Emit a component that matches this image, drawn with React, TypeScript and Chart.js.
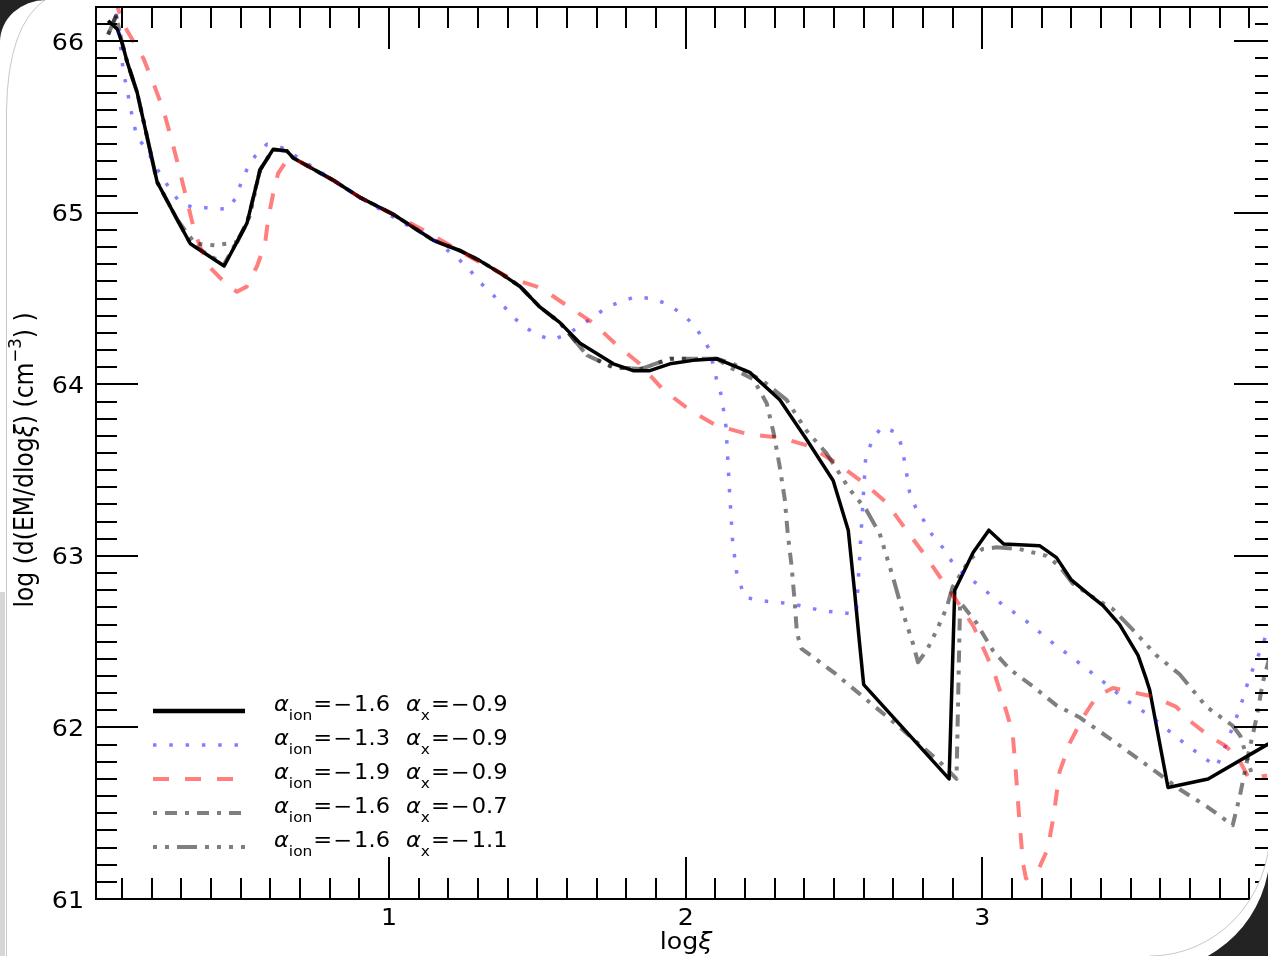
import { useEffect, useRef } from "react";
import { Chart, registerables } from "chart.js";
Chart.register(...registerables);

// ---------------- data ----------------
const xTicks = [1, 2, 3];
const yTicks = [61, 62, 63, 64, 65, 66];
const X_MIN = 0.012;
const X_MAX = 3.99;
const Y_MIN = 61;
const Y_MAX = 66.2;

const ionValues = ["−1.6", "−1.3", "−1.9", "−1.6", "−1.6"];
const alphaXValues = ["−0.9", "−0.9", "−0.9", "−0.7", "−1.1"];

// [log xi, log dEM/dlogxi]
const seriesBlack: [number, number][] = [
  [0.053, 66.12], [0.084, 66.07], [0.1, 65.99], [0.117, 65.88], [0.151, 65.7], [0.218, 65.18],
  [0.252, 65.07], [0.286, 64.96], [0.33, 64.82], [0.444, 64.69], [0.521, 64.94], [0.565, 65.25],
  [0.609, 65.37], [0.656, 65.36], [0.677, 65.32], [0.812, 65.19], [0.902, 65.09], [1.015, 64.99],
  [1.149, 64.84], [1.239, 64.78], [1.307, 64.72], [1.374, 64.65], [1.442, 64.57], [1.509, 64.45],
  [1.576, 64.36], [1.644, 64.24], [1.7, 64.18], [1.756, 64.12], [1.823, 64.08], [1.879, 64.08],
  [1.947, 64.12], [2.025, 64.14], [2.104, 64.15], [2.216, 64.07], [2.317, 63.91], [2.407, 63.68],
  [2.497, 63.44], [2.548, 63.15], [2.57, 62.78], [2.585, 62.51], [2.6, 62.25], [2.888, 61.7],
  [2.907, 62.8], [2.969, 63.02], [3.022, 63.15], [3.072, 63.07], [3.193, 63.06], [3.25, 62.99],
  [3.3, 62.86], [3.356, 62.78], [3.407, 62.71], [3.463, 62.6], [3.525, 62.42], [3.553, 62.28],
  [3.564, 62.22], [3.626, 61.65], [3.761, 61.7], [3.96, 61.9], [4.0, 61.93],
];

const seriesBlue: [number, number][] = [
  [0.07, 66.25], [0.094, 65.99], [0.104, 65.82], [0.117, 65.72], [0.127, 65.62], [0.15, 65.44],
  [0.184, 65.37], [0.206, 65.29], [0.235, 65.21], [0.268, 65.12], [0.296, 65.06], [0.34, 65.03],
  [0.397, 65.03], [0.454, 65.02], [0.481, 65.08], [0.498, 65.16], [0.52, 65.25], [0.548, 65.33],
  [0.588, 65.4], [0.639, 65.38], [0.677, 65.34], [0.812, 65.19], [0.902, 65.09], [1.048, 64.94],
  [1.138, 64.86], [1.183, 64.8], [1.228, 64.74], [1.266, 64.68], [1.303, 64.6], [1.34, 64.54],
  [1.38, 64.47], [1.414, 64.4], [1.452, 64.34], [1.498, 64.29], [1.548, 64.26], [1.599, 64.29],
  [1.643, 64.34], [1.687, 64.39], [1.734, 64.45], [1.778, 64.48], [1.829, 64.51], [1.886, 64.5],
  [1.936, 64.47], [1.98, 64.42], [2.02, 64.36], [2.054, 64.28], [2.081, 64.2], [2.104, 64.03],
  [2.121, 63.93], [2.136, 63.75], [2.142, 63.56], [2.148, 63.37], [2.158, 63.09], [2.171, 62.91],
  [2.198, 62.76], [2.249, 62.74], [2.36, 62.72], [2.462, 62.68], [2.519, 62.67], [2.575, 62.66],
  [2.59, 63.1], [2.607, 63.58], [2.631, 63.68], [2.66, 63.75], [2.711, 63.72], [2.728, 63.64],
  [2.739, 63.54], [2.755, 63.37], [2.778, 63.27], [2.805, 63.2], [2.832, 63.12], [2.866, 63.05],
  [2.896, 62.97], [2.934, 62.9], [2.98, 62.84], [3.058, 62.73], [3.148, 62.62], [3.232, 62.5],
  [3.316, 62.39], [3.405, 62.27], [3.484, 62.16], [3.572, 62.06], [3.657, 61.94], [3.742, 61.83],
  [3.789, 61.77], [3.81, 61.85], [3.868, 62.11], [3.9, 62.29], [3.94, 62.46], [3.97, 62.6],
];

const seriesRed: [number, number][] = [
  [0.075, 66.25], [0.104, 66.1], [0.172, 65.9], [0.211, 65.73], [0.239, 65.6], [0.268, 65.42],
  [0.296, 65.23], [0.319, 65.07], [0.34, 64.92], [0.363, 64.8], [0.397, 64.68], [0.454, 64.58],
  [0.487, 64.54], [0.52, 64.57], [0.555, 64.69], [0.582, 64.82], [0.592, 64.96], [0.609, 65.11],
  [0.626, 65.23], [0.649, 65.29], [0.677, 65.32], [0.812, 65.19], [0.902, 65.09], [1.015, 64.99],
  [1.115, 64.9], [1.216, 64.8], [1.307, 64.71], [1.408, 64.62], [1.498, 64.57], [1.531, 64.54],
  [1.599, 64.46], [1.687, 64.36], [1.767, 64.23], [1.845, 64.12], [1.923, 63.97], [2.014, 63.85],
  [2.104, 63.76], [2.209, 63.71], [2.317, 63.69], [2.418, 63.64], [2.509, 63.54], [2.597, 63.43],
  [2.677, 63.31], [2.744, 63.15], [2.8, 63.02], [2.856, 62.88], [2.913, 62.74], [2.97, 62.59],
  [3.04, 62.32], [3.073, 62.14], [3.102, 61.97], [3.113, 61.74], [3.124, 61.48], [3.137, 61.21],
  [3.147, 61.12], [3.186, 61.16], [3.22, 61.29], [3.24, 61.48], [3.26, 61.74], [3.295, 61.91],
  [3.34, 62.06], [3.385, 62.18], [3.44, 62.23], [3.496, 62.21], [3.574, 62.18], [3.654, 62.12],
  [3.698, 62.04], [3.765, 61.95], [3.822, 61.89], [3.866, 61.81], [3.9, 61.7], [3.96, 61.72],
];

const seriesDashDot: [number, number][] = [
  [0.053, 66.04], [0.08, 66.15], [0.1, 65.99], [0.117, 65.88], [0.151, 65.7], [0.218, 65.18],
  [0.252, 65.07], [0.286, 64.96], [0.33, 64.82], [0.444, 64.7], [0.521, 64.94], [0.565, 65.25],
  [0.609, 65.37], [0.656, 65.36], [0.677, 65.32], [0.812, 65.19], [0.902, 65.09], [1.015, 64.99],
  [1.149, 64.84], [1.239, 64.78], [1.307, 64.72], [1.374, 64.65], [1.442, 64.57], [1.509, 64.45],
  [1.576, 64.36], [1.667, 64.17], [1.755, 64.1], [1.85, 64.09], [1.947, 64.15], [2.025, 64.15],
  [2.104, 64.15], [2.148, 64.1], [2.228, 64.03], [2.273, 63.89], [2.296, 63.72], [2.317, 63.52],
  [2.334, 63.33], [2.344, 63.13], [2.357, 62.94], [2.367, 62.74], [2.375, 62.55], [2.39, 62.46],
  [2.5, 62.32], [2.722, 62.0], [2.856, 61.8], [2.913, 61.7], [2.925, 62.73], [2.98, 62.61],
  [3.035, 62.45], [3.092, 62.34], [3.17, 62.24], [3.249, 62.13], [3.327, 62.06], [3.418, 61.95],
  [3.507, 61.84], [3.587, 61.74], [3.665, 61.64], [3.756, 61.54], [3.844, 61.43], [3.868, 61.6],
  [3.9, 61.87], [3.925, 62.06], [3.945, 62.26], [3.97, 62.42],
];

const seriesDashDotDot: [number, number][] = [
  [0.053, 66.04], [0.08, 66.15], [0.1, 65.99], [0.117, 65.88], [0.151, 65.7], [0.218, 65.18],
  [0.252, 65.07], [0.286, 64.96], [0.346, 64.82], [0.414, 64.81], [0.488, 64.83], [0.53, 64.98],
  [0.565, 65.25], [0.609, 65.37], [0.656, 65.36], [0.677, 65.32], [0.812, 65.19], [0.902, 65.09],
  [1.015, 64.99], [1.149, 64.84], [1.239, 64.78], [1.307, 64.72], [1.374, 64.65], [1.442, 64.57],
  [1.509, 64.45], [1.576, 64.36], [1.667, 64.17], [1.755, 64.1], [1.85, 64.09], [1.947, 64.15],
  [2.025, 64.15], [2.104, 64.15], [2.16, 64.12], [2.26, 64.02], [2.34, 63.91], [2.407, 63.73],
  [2.474, 63.6], [2.552, 63.39], [2.608, 63.27], [2.654, 63.13], [2.698, 62.88], [2.732, 62.67],
  [2.766, 62.49], [2.783, 62.38], [2.813, 62.45], [2.847, 62.57], [2.88, 62.7], [2.9, 62.82],
  [2.958, 62.98], [3.0, 63.04], [3.048, 63.05], [3.126, 63.04], [3.216, 63.0], [3.26, 62.94],
  [3.304, 62.84], [3.372, 62.76], [3.44, 62.69], [3.507, 62.57], [3.587, 62.42], [3.665, 62.31],
  [3.756, 62.12], [3.844, 62.01], [3.87, 61.95], [3.91, 61.72],
];

// ---------------- layout / styles ----------------
const W = 1290;
const H = 956;
const LEFT = 96;
const RIGHT = 1276;
const TOP = 7;
const BOTTOM = 899;
const FONT = "'DejaVu Sans', 'Liberation Sans', sans-serif";
const HS = 1.1; // horizontal text stretch seen in the reference

type Style = { color: string; width: number; legendWidth: number; dash: number[]; legendOffset: number };
const styles: Style[] = [
  { color: "#000000", width: 3.5, legendWidth: 4.5, dash: [], legendOffset: 0 },
  { color: "rgba(0,0,255,0.5)", width: 3.5, legendWidth: 3.5, dash: [3.5, 12.8], legendOffset: 0 },
  { color: "rgba(255,0,0,0.5)", width: 4, legendWidth: 4, dash: [16, 16], legendOffset: 0 },
  { color: "rgba(0,0,0,0.5)", width: 4, legendWidth: 4, dash: [4, 8, 12, 8], legendOffset: 0 },
  { color: "rgba(0,0,0,0.5)", width: 4, legendWidth: 4, dash: [20, 8, 4, 8, 4, 8, 4, 8, 4, 8], legendOffset: 52 },
];

// draws text stretched horizontally, returns the advance
function txt(ctx: CanvasRenderingContext2D, s: string, x: number, y: number, font: string, align: CanvasTextAlign = "left") {
  ctx.save();
  ctx.font = font;
  ctx.textAlign = align;
  ctx.textBaseline = "alphabetic";
  ctx.translate(x, y);
  ctx.scale(HS, 1);
  ctx.fillText(s, 0, 0);
  const w = ctx.measureText(s).width * HS;
  ctx.restore();
  return w;
}

// fill the part of a rectangle lying outside an ellipse
function outsideEllipse(
  ctx: CanvasRenderingContext2D,
  rx0: number, ry0: number, rw: number, rh: number,
  cx: number, cy: number, ex: number, ey: number, color: string,
) {
  ctx.save();
  ctx.beginPath();
  ctx.rect(rx0, ry0, rw, rh);
  ctx.clip();
  ctx.beginPath();
  ctx.rect(rx0, ry0, rw, rh);
  ctx.moveTo(cx + ex, cy);
  ctx.ellipse(cx, cy, ex, ey, 0, 0, Math.PI * 2);
  ctx.fillStyle = color;
  ctx.fill("evenodd");
  ctx.restore();
}

const decorPlugin = {
  id: "decor",
  beforeDraw(chart: any) {
    const ctx = chart.ctx;
    ctx.save();
    ctx.fillStyle = "#ffffff";
    ctx.fillRect(0, 0, chart.width, chart.height);
    ctx.restore();
  },
  afterDatasetsDraw(chart: any) {
    const { ctx, chartArea: a } = chart;
    const xs = chart.scales.x;
    const ys = chart.scales.y;
    ctx.save();
    ctx.strokeStyle = "#000";
    ctx.lineWidth = 2;
    ctx.lineCap = "butt";
    ctx.setLineDash([]);
    ctx.strokeRect(a.left, a.top, a.right - a.left, a.bottom - a.top);
    const seg = (x1: number, y1: number, x2: number, y2: number) => {
      ctx.beginPath();
      ctx.moveTo(x1, y1);
      ctx.lineTo(x2, y2);
      ctx.stroke();
    };
    for (let i = 1; i <= 39; i++) {
      const px = Math.round(xs.getPixelForValue(i / 10));
      const len = i % 10 === 0 ? 42 : 21;
      seg(px, a.bottom, px, a.bottom - len);
      seg(px, a.top, px, a.top + len);
    }
    for (let i = 611; i <= 661; i++) {
      const py = Math.round(ys.getPixelForValue(i / 10));
      const len = i % 10 === 0 ? 42 : 21;
      seg(a.left, py, a.left + len, py);
      seg(a.right, py, a.right - len, py);
    }
    // tick labels from the scales
    ctx.fillStyle = "#000";
    for (const v of yTicks) {
      const py = ys.getPixelForValue(v);
      txt(ctx, String(v), a.left - 12, py + 8.5, `23px ${FONT}`, "right");
    }
    for (const v of xTicks) {
      const px = xs.getPixelForValue(v);
      txt(ctx, String(v), px, a.bottom + 26, `23px ${FONT}`, "center");
    }
    ctx.restore();
  },
  afterDraw(chart: any) {
    const ctx = chart.ctx;
    ctx.save();
    // legend
    const hx0 = 153;
    const hx1 = 245;
    for (let i = 0; i < styles.length; i++) {
      const st = styles[i];
      const y = 711 + i * 34;
      ctx.beginPath();
      ctx.strokeStyle = st.color;
      ctx.lineWidth = st.legendWidth;
      ctx.lineCap = "butt";
      ctx.setLineDash(st.dash);
      ctx.lineDashOffset = st.legendOffset;
      ctx.moveTo(hx0, y);
      ctx.lineTo(hx1, y);
      ctx.stroke();
      ctx.setLineDash([]);
      ctx.lineDashOffset = 0;
      ctx.fillStyle = "#000";
      const group = (x0: number, sub: string, val: string) => {
        let x = x0;
        x += txt(ctx, "α", x, y, `italic 20.5px ${FONT}`);
        x += txt(ctx, sub, x, y + 8.5, `14px ${FONT}`) + 1;
        x += txt(ctx, "=", x, y, `20.5px ${FONT}`) + 1;
        x += txt(ctx, val.slice(0, 1), x, y, `20.5px ${FONT}`) + 2;
        txt(ctx, val.slice(1), x, y, `20.5px ${FONT}`);
      };
      group(274, "ion", ionValues[i]);
      group(406, "x", alphaXValues[i]);
    }

    // x title: log ξ
    ctx.fillStyle = "#000";
    ctx.font = `23px ${FONT}`;
    const wLog = ctx.measureText("log").width * HS;
    ctx.font = `italic 23px ${FONT}`;
    const wXi = ctx.measureText("ξ").width * HS;
    const sx = 686 - (wLog + wXi) / 2;
    txt(ctx, "log", sx, 949, `23px ${FONT}`);
    txt(ctx, "ξ", sx + wLog, 949, `italic 23px ${FONT}`);

    // y title (rotated)
    const parts: { t: string; f: string; dy: number }[] = [
      { t: "log (d(EM/dlog", f: `23.5px ${FONT}`, dy: 0 },
      { t: "ξ", f: `italic 23.5px ${FONT}`, dy: 0 },
      { t: ") (cm", f: `23.5px ${FONT}`, dy: 0 },
      { t: "−3", f: `16.5px ${FONT}`, dy: -11 },
      { t: ") )", f: `23.5px ${FONT}`, dy: 0 },
    ];
    let total = 0;
    for (const p of parts) {
      ctx.font = p.f;
      total += ctx.measureText(p.t).width;
    }
    ctx.save();
    ctx.translate(33, 460);
    ctx.rotate(-Math.PI / 2);
    ctx.scale(1, HS);
    ctx.textBaseline = "alphabetic";
    ctx.textAlign = "left";
    let px = -total / 2;
    for (const p of parts) {
      ctx.font = p.f;
      ctx.fillText(p.t, px, p.dy);
      px += ctx.measureText(p.t).width;
    }
    ctx.restore();

    // screenshot frame corners
    // bottom-right: white band, thin grey outline, dark background
    outsideEllipse(ctx, 1150, 830, 140, 126, 1150, 830, 120, 126, "#ffffff");
    ctx.strokeStyle = "#c8c8c8";
    ctx.lineWidth = 1;
    ctx.beginPath();
    ctx.ellipse(1150, 830, 120, 126, 0, 0, Math.PI / 2);
    ctx.stroke();
    outsideEllipse(ctx, 1150, 850, 140, 106, 1150, 850, 120, 121, "#232323");
    // top-left
    ctx.fillStyle = "#ffffff";
    ctx.beginPath();
    ctx.moveTo(0, 0);
    ctx.lineTo(45, 0);
    ctx.quadraticCurveTo(8, 25, 6, 110);
    ctx.lineTo(6, 956);
    ctx.lineTo(0, 956);
    ctx.closePath();
    ctx.fill();
    ctx.fillStyle = "#d6d6d6";
    ctx.fillRect(0, 592, 5, 364);
    ctx.strokeStyle = "#c8c8c8";
    ctx.lineWidth = 1;
    ctx.beginPath();
    ctx.moveTo(45, 0);
    ctx.quadraticCurveTo(8, 25, 6.5, 110);
    ctx.lineTo(6.5, 956);
    ctx.stroke();
    outsideEllipse(ctx, 0, 0, 46, 42, 46, 42, 46, 42, "#232323");
    ctx.restore();
  },
};

export default function App() {
  const ref = useRef<HTMLCanvasElement>(null);
  useEffect(() => {
    const canvas = ref.current;
    if (!canvas) return;
    const all = [seriesBlack, seriesBlue, seriesRed, seriesDashDot, seriesDashDotDot];
    const chart = new Chart(canvas, {
      type: "line",
      data: {
        datasets: all.map((pts, i) => ({
          label: `alpha_ion=${ionValues[i]} alpha_x=${alphaXValues[i]}`,
          data: pts.map(([x, y]) => ({ x, y })),
          borderColor: styles[i].color,
          borderWidth: styles[i].width,
          borderDash: styles[i].dash,
          borderDashOffset: 0,
          borderCapStyle: "butt",
          borderJoinStyle: "round",
          pointRadius: 0,
          pointHoverRadius: 0,
          tension: 0,
          fill: false,
          order: all.length - i,
        })),
      },
      options: {
        responsive: false,
        animation: false,
        devicePixelRatio: 1,
        events: [],
        layout: { padding: { top: TOP, right: W - RIGHT, left: 0, bottom: 0 } },
        plugins: { legend: { display: false }, tooltip: { enabled: false }, title: { display: false } },
        scales: {
          x: {
            type: "linear",
            min: X_MIN,
            max: X_MAX,
            grid: { display: false, drawTicks: false },
            border: { display: false },
            ticks: { display: false },
            afterBuildTicks: (s: any) => {
              s.ticks = xTicks.map((v) => ({ value: v }));
            },
            afterFit: (s: any) => {
              s.height = H - BOTTOM;
            },
          },
          y: {
            type: "linear",
            min: Y_MIN,
            max: Y_MAX,
            grid: { display: false, drawTicks: false },
            border: { display: false },
            ticks: { display: false },
            afterBuildTicks: (s: any) => {
              s.ticks = yTicks.map((v) => ({ value: v }));
            },
            afterFit: (s: any) => {
              s.width = LEFT;
            },
          },
        },
      } as any,
      plugins: [decorPlugin],
    });
    return () => chart.destroy();
  }, []);
  return (
    <div style={{ position: "fixed", left: 0, top: 0, width: 1268, height: 956, overflow: "hidden", background: "#fff" }}>
      <canvas ref={ref} width={W} height={H} style={{ display: "block", width: W, height: H }} />
    </div>
  );
}
